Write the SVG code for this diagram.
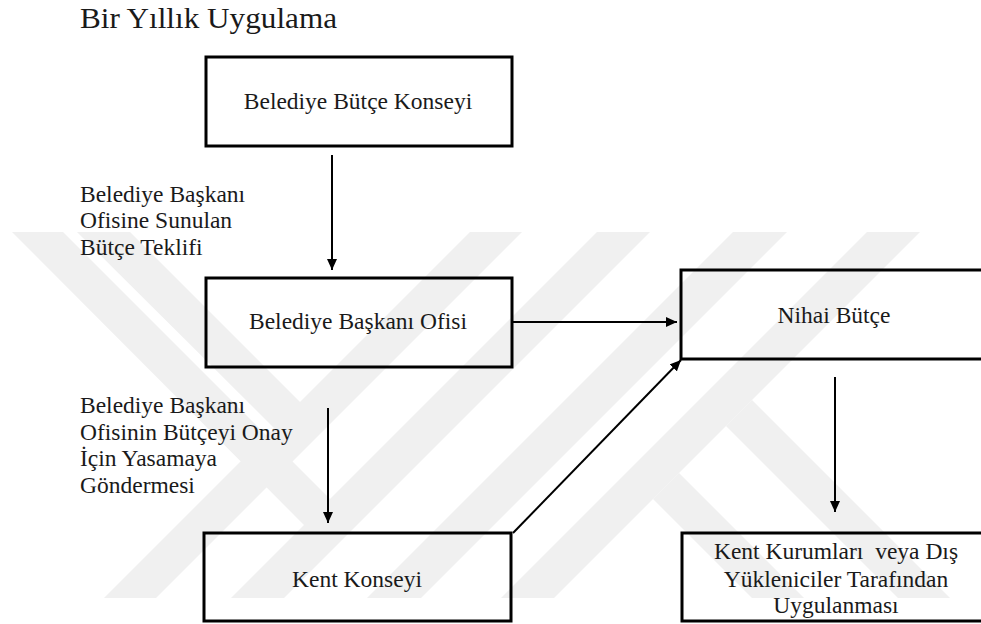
<svg xmlns="http://www.w3.org/2000/svg" width="981" height="624" viewBox="0 0 981 624">
<style>
.t{font-family:'Liberation Serif','DejaVu Serif',serif;fill:#1a1a1a;font-size:23.5px}
.c{text-anchor:middle}
.box{fill:none;stroke:#000;stroke-width:3}
.wm{fill:#f0f0f0}
.arr{stroke:#000;stroke-width:2;fill:none;marker-end:url(#ah)}
</style>
<defs>
<marker id="ah" markerUnits="userSpaceOnUse" markerWidth="12" markerHeight="10" refX="11" refY="5" orient="auto">
<path d="M0,0 L11,5 L0,10 z" fill="#000"/>
</marker>
</defs>
<rect x="0" y="0" width="981" height="624" fill="#fff"/>
<g id="watermark">
<polygon class="wm" points="470,232 522,232 156,598 104,598"/>
<polygon class="wm" points="597,232 650,232 284,598 231,598"/>
<polygon class="wm" points="733,232 787,232 421,598 367,598"/>
<polygon class="wm" points="867,232 920,232 554,598 501,598"/>
<polygon class="wm" points="12,232 63,232 356,525 304,525"/>
<polygon class="wm" points="77,232 130,232 326,428 274,428"/>
<polygon class="wm" points="752,400 950,598 898,598 726,426"/>
<polygon class="wm" points="679,473 804,598 752,598 653,499"/>
</g>
<text class="t" x="80" y="28" style="font-size:29px" textLength="257" lengthAdjust="spacingAndGlyphs">Bir Yıllık Uygulama</text>
<g id="connectors">
<line class="arr" x1="332" y1="155" x2="332" y2="270"/>
<line class="arr" x1="512" y1="322" x2="677" y2="322"/>
<line class="arr" x1="513" y1="533" x2="681" y2="360"/>
<line class="arr" x1="835" y1="377" x2="835" y2="512"/>
<line class="arr" x1="328" y1="408" x2="328" y2="523"/>
</g>
<g id="n1">
<rect class="box" x="206" y="57" width="306" height="89"/>
<text class="t c" x="358" y="109">Belediye Bütçe Konseyi</text>
</g>
<g id="n2">
<rect class="box" x="206" y="278" width="306" height="89"/>
<text class="t c" x="358" y="329">Belediye Başkanı Ofisi</text>
</g>
<g id="n3">
<rect class="box" x="681" y="270" width="340" height="89"/>
<text class="t c" x="834" y="323">Nihai Bütçe</text>
</g>
<g id="n4">
<rect class="box" x="204" y="533" width="307" height="88"/>
<text class="t c" x="357" y="587">Kent Konseyi</text>
</g>
<g id="n5">
<rect class="box" x="682" y="533" width="340" height="88"/>
<text class="t c" x="836" y="559" xml:space="preserve">Kent Kurumları  veya Dış</text>
<text class="t c" x="836" y="587">Yükleniciler Tarafından</text>
<text class="t c" x="836" y="613">Uygulanması</text>
</g>
<g id="label1">
<text class="t" x="80" y="202">Belediye Başkanı</text>
<text class="t" x="80" y="228">Ofisine Sunulan</text>
<text class="t" x="80" y="255">Bütçe Teklifi</text>
</g>
<g id="label2">
<text class="t" x="80" y="413">Belediye Başkanı</text>
<text class="t" x="80" y="440">Ofisinin Bütçeyi Onay</text>
<text class="t" x="80" y="466">İçin Yasamaya</text>
<text class="t" x="80" y="493">Göndermesi</text>
</g>
</svg>
